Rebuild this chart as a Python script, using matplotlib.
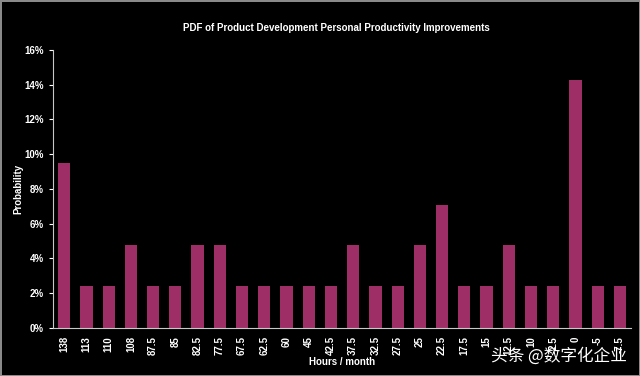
import numpy as np
import matplotlib
matplotlib.use('Agg')
import matplotlib.pyplot as plt
from matplotlib.ticker import PercentFormatter

# horas/mes e probabilidade (%)
horas = ['138', '113', '110', '108', '87.5', '85', '82.5', '77.5', '67.5', '62.5',
         '60', '45', '42.5', '37.5', '32.5', '27.5', '25', '22.5', '17.5', '15',
         '12.5', '10', '2.5', '0', '-5', '-7.5']
prob = [9.5, 2.4, 2.4, 4.8, 2.4, 2.4, 4.8, 4.8, 2.4, 2.4,
        2.4, 2.4, 2.4, 4.8, 2.4, 2.4, 4.8, 7.1, 2.4, 2.4,
        4.8, 2.4, 2.4, 14.3, 2.4, 2.4]

plt.rcParams['font.family'] = ['Liberation Sans Narrow', 'Liberation Sans', 'DejaVu Sans']

fig = plt.figure(figsize=(6.4, 3.76), dpi=100, facecolor='black')
fig.patch.set_edgecolor('#8a8a8a')
fig.patch.set_linewidth(2)
ax = fig.add_axes([0.083, 0.128, 0.903, 0.739])
ax.set_facecolor('black')

x = np.arange(len(horas))
ax.bar(x, prob, width=0.55, color='#9E2F66')

ax.set_xlim(-0.5, len(horas) - 0.5)
ax.set_ylim(0, 16)
ax.set_yticks(np.arange(0, 17, 2))
ax.yaxis.set_major_formatter(PercentFormatter(decimals=0))
ax.set_xticks(x)
ax.set_xticklabels(horas, rotation=90)

for s in ['top', 'right']:
    ax.spines[s].set_visible(False)
for s in ['left', 'bottom']:
    ax.spines[s].set_color('#c8c8c8')
    ax.spines[s].set_linewidth(0.8)

ax.tick_params(axis='y', colors='white', labelsize=7, length=3, width=0.8)
ax.tick_params(axis='x', colors='white', labelsize=7, length=0, pad=6)
for lab in ax.get_xticklabels() + ax.get_yticklabels():
    lab.set_fontweight('bold')

ax.set_ylabel('Probability', color='white', fontsize=7, fontweight='bold', labelpad=1)
ax.set_xlabel('Hours / month', color='white', fontsize=7, fontweight='bold', labelpad=1)
fig.text(0.525, 0.925, 'PDF of Product Development Personal Productivity Improvements',
         color='white', fontsize=7, fontweight='bold', ha='center', va='center')

# marca d'agua
fig.text(0.98, 0.052, '头条 @数字化企业', color='white', fontsize=12, ha='right', va='center',
         family=['Noto Sans CJK SC', 'DejaVu Sans'])

fig.savefig('out.png', dpi=100, facecolor=fig.get_facecolor(), edgecolor=fig.get_edgecolor())
